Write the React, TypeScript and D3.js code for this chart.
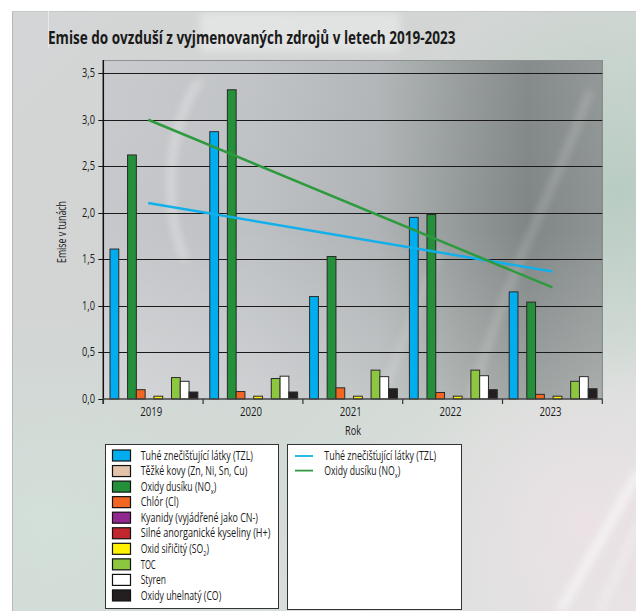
import React, { useEffect, useRef } from 'react';
import * as d3 from 'd3';

// ---------- DATA ----------
const years = ['2019', '2020', '2021', '2022', '2023'];

// legend labels: [main, subscript, tail]
const seriesLabels: [string, string, string][] = [
  ['Tuhé znečišťující látky (TZL)', '', ''],
  ['Těžké kovy (Zn, Ni, Sn, Cu)', '', ''],
  ['Oxidy dusíku (NO', 'x', ')'],
  ['Chlór (Cl)', '', ''],
  ['Kyanidy (vyjádřené jako CN-)', '', ''],
  ['Silné anorganické kyseliny (H+)', '', ''],
  ['Oxid siřičitý (SO', '2', ')'],
  ['TOC', '', ''],
  ['Styren', '', ''],
  ['Oxidy uhelnatý (CO)', '', ''],
];
const seriesColors = ['#00aeef', '#e3c4ab', '#25903a', '#f26522', '#92278f', '#c1272d', '#fff200', '#8dc63f', '#ffffff', '#231f20'];

const tzl = [1.61, 2.87, 1.1, 1.95, 1.15];
const tezkeKovy = [0, 0, 0, 0, 0];
const oxidyDusiku = [2.62, 3.32, 1.53, 1.98, 1.04];
const chlor = [0.1, 0.08, 0.12, 0.07, 0.05];
const kyanidy = [0, 0, 0, 0, 0];
const kyseliny = [0, 0, 0, 0, 0];
const oxidSiricity = [0.03, 0.03, 0.03, 0.03, 0.03];
const toc = [0.23, 0.22, 0.31, 0.31, 0.19];
const styren = [0.19, 0.245, 0.24, 0.25, 0.24];
const oxidUhelnaty = [0.075, 0.075, 0.11, 0.1, 0.11];

const seriesValues = [tzl, tezkeKovy, oxidyDusiku, chlor, kyanidy, kyseliny, oxidSiricity, toc, styren, oxidUhelnaty];
// slot position of each series within a year group
const barSlots = [0, 1, 2, 3, 4, 6, 5, 7, 8, 9];

// trend lines (linear) for TZL and NOx
const trendSeries = [0, 2];
const trendColors = ['#12b0ea', '#2e9a3e'];
const trendLabels: [string, string, string][] = [
  ['Tuhé znečišťující látky (TZL)', '', ''],
  ['Oxidy dusíku (NO', 'x', ')'],
];

const yTicks = [0, 0.5, 1, 1.5, 2, 2.5, 3, 3.5];

const FONT = "'Liberation Sans Narrow', 'Open Sans', 'DejaVu Sans', sans-serif";

function fitText(sel: d3.Selection<SVGTextElement, unknown, null, undefined>, x: number, target: number) {
  const node = sel.node();
  if (!node) return;
  const w = node.getComputedTextLength();
  if (w > 0) {
    const s = target / w;
    sel.attr('transform', `translate(${x},0) scale(${s},1) translate(${-x},0)`);
  }
}

export default function App() {
  const ref = useRef<SVGSVGElement>(null);

  useEffect(() => {
    const svg = d3.select(ref.current!);
    svg.selectAll('*').remove();

    const W = 636, H = 611;
    const plotL = 103.3, plotR = 602.3, plotT = 60, plotB = 399;

    const defs = svg.append('defs');
    // page background gradient
    const bg = defs.append('linearGradient').attr('id', 'bgGrad').attr('x1', 0).attr('y1', 0).attr('x2', 1).attr('y2', 1);
    [[0, '#d4d5d6'], [0.35, '#d2d5d4'], [0.6, '#d3dbd6'], [0.85, '#dde0de'], [1, '#e6e3e5']].forEach(([o, c]) =>
      bg.append('stop').attr('offset', o as number).attr('stop-color', c as string));
    const rg1 = defs.append('radialGradient').attr('id', 'greenGlow').attr('cx', 0.97).attr('cy', 0.3).attr('r', 0.35);
    rg1.append('stop').attr('offset', 0).attr('stop-color', '#b7cbc1').attr('stop-opacity', 0.95);
    rg1.append('stop').attr('offset', 1).attr('stop-color', '#b7cbc1').attr('stop-opacity', 0);
    const rg2 = defs.append('radialGradient').attr('id', 'pinkGlow').attr('cx', 0.92).attr('cy', 0.85).attr('r', 0.3);
    rg2.append('stop').attr('offset', 0).attr('stop-color', '#ece2e6').attr('stop-opacity', 0.9);
    rg2.append('stop').attr('offset', 1).attr('stop-color', '#ece2e6').attr('stop-opacity', 0);
    const rg3 = defs.append('radialGradient').attr('id', 'leftGlow').attr('cx', 0.05).attr('cy', 0.85).attr('r', 0.35);
    rg3.append('stop').attr('offset', 0).attr('stop-color', '#d3e0d9').attr('stop-opacity', 0.9);
    rg3.append('stop').attr('offset', 1).attr('stop-color', '#d3e0d9').attr('stop-opacity', 0);

    const pg = defs.append('linearGradient').attr('id', 'plotGrad').attr('x1', 0).attr('y1', 0).attr('x2', 1).attr('y2', 0);
    [[0, '#c6c8cb'], [0.3, '#bec1c4'], [0.55, '#afb3b5'], [0.72, '#939998'], [0.85, '#7f8685'], [1, '#8e9493']].forEach(([o, c]) =>
      pg.append('stop').attr('offset', o as number).attr('stop-color', c as string));
    const pv = defs.append('linearGradient').attr('id', 'plotV').attr('x1', 0).attr('y1', 0).attr('x2', 0).attr('y2', 1);
    pv.append('stop').attr('offset', 0).attr('stop-color', '#ffffff').attr('stop-opacity', 0.05);
    pv.append('stop').attr('offset', 0.5).attr('stop-color', '#ffffff').attr('stop-opacity', 0);
    pv.append('stop').attr('offset', 1).attr('stop-color', '#ffffff').attr('stop-opacity', 0.25);
    defs.append('filter').attr('id', 'blur').attr('x', -0.5).attr('y', -0.5).attr('width', 2).attr('height', 2)
      .append('feGaussianBlur').attr('stdDeviation', 4);
    defs.append('clipPath').attr('id', 'plotClip').append('rect')
      .attr('x', plotL).attr('y', plotT).attr('width', plotR - plotL).attr('height', plotB - plotT);
    defs.append('clipPath').attr('id', 'pageClip').append('rect')
      .attr('x', 12).attr('y', 11).attr('width', W - 12).attr('height', H - 11);

    // page
    svg.append('rect').attr('width', W).attr('height', H).attr('fill', '#ffffff');
    const page = svg.append('g').attr('clip-path', 'url(#pageClip)');
    page.append('rect').attr('x', 12).attr('y', 11).attr('width', W - 12).attr('height', H - 11).attr('fill', 'url(#bgGrad)');
    page.append('rect').attr('x', 12).attr('y', 11).attr('width', W - 12).attr('height', H - 11).attr('fill', 'url(#leftGlow)');
    page.append('rect').attr('x', 12).attr('y', 11).attr('width', W - 12).attr('height', H - 11).attr('fill', 'url(#greenGlow)');
    page.append('rect').attr('x', 12).attr('y', 11).attr('width', W - 12).attr('height', H - 11).attr('fill', 'url(#pinkGlow)');
    // streaks
    page.append('line').attr('x1', 30).attr('y1', 20).attr('x2', 30).attr('y2', 300)
      .attr('stroke', '#ffffff').attr('stroke-width', 5).attr('opacity', 0.45).attr('filter', 'url(#blur)');
    page.append('path').attr('d', 'M640,470 L560,611').attr('stroke', '#ffffff').attr('stroke-width', 7)
      .attr('opacity', 0.7).attr('filter', 'url(#blur)');
    page.append('path').attr('d', 'M640,520 L600,611').attr('stroke', '#ffffff').attr('stroke-width', 4)
      .attr('opacity', 0.5).attr('filter', 'url(#blur)');
    page.append('rect').attr('x', 200).attr('y', 12).attr('width', 200).attr('height', 40).attr('fill', '#ffffff')
      .attr('opacity', 0.35).attr('filter', 'url(#blur)');
    page.append('line').attr('x1', 12.5).attr('y1', 11).attr('x2', 12.5).attr('y2', H).attr('stroke', '#b4b8b6').attr('stroke-width', 1);
    page.append('line').attr('x1', 12).attr('y1', 11.5).attr('x2', W).attr('y2', 11.5).attr('stroke', '#c6c8c8').attr('stroke-width', 1);
    page.append('line').attr('x1', 48.5).attr('y1', 11).attr('x2', 48.5).attr('y2', 48).attr('stroke', '#e8e8e8').attr('stroke-width', 1);

    // title
    const title = svg.append('text').attr('x', 48).attr('y', 44).attr('font-family', FONT).attr('font-weight', 'bold')
      .attr('font-size', 17).attr('fill', '#1a1a1a').text('Emise do ovzduší z vyjmenovaných zdrojů v letech 2019-2023');
    fitText(title as any, 48, 408);

    // scales
    const x = d3.scaleBand<string>().domain(years).range([plotL, plotR]).padding(0);
    const slotScale = d3.scaleBand<number>().domain(d3.range(10)).range([0, x.bandwidth()])
      .paddingInner(0).paddingOuter(0.68).align(0.56);
    const y = d3.scaleLinear().domain([0, 3.5]).range([plotB, 73]);

    // plot bg
    svg.append('rect').attr('x', plotL).attr('y', plotT).attr('width', plotR - plotL).attr('height', plotB - plotT).attr('fill', 'url(#plotGrad)');
    svg.append('rect').attr('x', plotL).attr('y', plotT).attr('width', plotR - plotL).attr('height', plotB - plotT).attr('fill', 'url(#plotV)');
    const streaks = svg.append('g').attr('clip-path', 'url(#plotClip)');
    streaks.append('path').attr('d', 'M200,80 C170,120 160,200 185,260').attr('fill', 'none').attr('stroke', '#ffffff')
      .attr('stroke-width', 5).attr('opacity', 0.5).attr('filter', 'url(#blur)');
    streaks.append('path').attr('d', 'M590,90 C560,180 520,240 470,400').attr('fill', 'none').attr('stroke', '#ffffff')
      .attr('stroke-width', 4).attr('opacity', 0.35).attr('filter', 'url(#blur)');
    streaks.append('path').attr('d', 'M440,250 C420,300 400,350 380,400').attr('fill', 'none').attr('stroke', '#ffffff')
      .attr('stroke-width', 4).attr('opacity', 0.3).attr('filter', 'url(#blur)');
    svg.append('line').attr('x1', plotL).attr('x2', plotR).attr('y1', plotT + 0.5).attr('y2', plotT + 0.5).attr('stroke', '#8d9191');
    svg.append('line').attr('x1', plotR).attr('x2', plotR).attr('y1', plotT).attr('y2', plotB).attr('stroke', '#7b8181');

    // gridlines
    svg.append('g').selectAll('line').data(yTicks.filter(t => t > 0)).join('line')
      .attr('x1', plotL).attr('x2', plotR).attr('y1', d => Math.round(y(d)) + 0.5).attr('y2', d => Math.round(y(d)) + 0.5)
      .attr('stroke', '#1a1a1a').attr('stroke-width', 1);

    // bars
    const barG = svg.append('g');
    seriesValues.forEach((vals, si) => {
      barG.append('g').selectAll('rect').data(vals.map((v, i) => ({ v, year: years[i] })).filter(d => d.v > 0)).join('rect')
        .attr('x', d => (x(d.year) as number) + (slotScale(barSlots[si]) as number))
        .attr('y', d => y(d.v))
        .attr('width', slotScale.bandwidth())
        .attr('height', d => y(0) - y(d.v))
        .attr('fill', seriesColors[si])
        .attr('stroke', '#2a2a2a').attr('stroke-width', 1);
    });

    // trend lines
    trendSeries.forEach((si, k) => {
      const vals = seriesValues[si];
      const xs = vals.map((_, i) => i);
      const mx = d3.mean(xs)!, my = d3.mean(vals)!;
      const slope = d3.sum(xs.map((xi, i) => (xi - mx) * (vals[i] - my))) / d3.sum(xs.map(xi => (xi - mx) ** 2));
      const pts: [number, number][] = [0, vals.length - 1].map(i => [
        (x(years[i]) as number) + x.bandwidth() / 2 - (i === 0 ? 5 : 0),
        y(my + slope * (i - mx)),
      ]);
      svg.append('path').attr('d', d3.line()(pts)!).attr('fill', 'none').attr('stroke', trendColors[k]).attr('stroke-width', 2.5);
    });

    // axes
    svg.append('line').attr('x1', plotL).attr('x2', plotL).attr('y1', plotT).attr('y2', plotB + 5).attr('stroke', '#111').attr('stroke-width', 1.5);
    svg.append('line').attr('x1', plotL).attr('x2', plotR).attr('y1', plotB).attr('y2', plotB).attr('stroke', '#444').attr('stroke-width', 1.5);
    const yAx = svg.append('g');
    yTicks.forEach(t => {
      const yy = Math.round(y(t)) + 0.5;
      yAx.append('line').attr('x1', plotL - 5).attr('x2', plotL).attr('y1', yy).attr('y2', yy).attr('stroke', '#111');
      const tx = yAx.append('text').attr('x', 95).attr('y', yy + 4).attr('text-anchor', 'end').attr('font-family', FONT)
        .attr('font-size', 12).attr('fill', '#1a1a1a').text(d3.format('.1f')(t).replace('.', ','));
      fitText(tx as any, 95, 13);
    });
    const xAx = svg.append('g');
    [...years.map(yy => x(yy) as number), plotR].forEach(bx => {
      xAx.append('line').attr('x1', bx).attr('x2', bx).attr('y1', plotB).attr('y2', plotB + 5).attr('stroke', '#333').attr('stroke-width', 1.2);
    });
    years.forEach(yy => {
      const cx = (x(yy) as number) + x.bandwidth() / 2 - 2;
      const tx = xAx.append('text').attr('x', cx).attr('y', 416).attr('text-anchor', 'middle').attr('font-family', FONT)
        .attr('font-size', 12).attr('fill', '#1a1a1a').text(yy);
      fitText(tx as any, cx, 22);
    });
    const rok = svg.append('text').attr('x', 353).attr('y', 435).attr('text-anchor', 'middle').attr('font-family', FONT)
      .attr('font-size', 12).attr('fill', '#1a1a1a').text('Rok');
    fitText(rok as any, 353, 16);
    const yTitle = svg.append('g').attr('transform', 'translate(66,232) rotate(-90)').append('text')
      .attr('x', 0).attr('y', 0).attr('text-anchor', 'middle').attr('font-family', FONT).attr('font-size', 12)
      .attr('fill', '#1a1a1a').text('Emise v tunách');
    fitText(yTitle as any, 0, 62);

    // legend text helper
    const legendText = (g: any, tx: number, ty: number, parts: [string, string, string], target: number) => {
      const t = g.append('text').attr('x', tx).attr('y', ty).attr('font-family', FONT).attr('font-size', 12).attr('fill', '#1a1a1a');
      t.append('tspan').text(parts[0]);
      if (parts[1]) {
        t.append('tspan').attr('font-size', 8).attr('dy', 3).text(parts[1]);
        t.append('tspan').attr('dy', -3).text(parts[2]);
      }
      const node = t.node() as SVGTextElement;
      const w = node.getBBox().width;
      if (w > 0) t.attr('transform', `translate(${tx},0) scale(${target / w},1) translate(${-tx},0)`);
    };

    // legend 1
    const lg1 = svg.append('g');
    lg1.append('rect').attr('x', 105.5).attr('y', 444.5).attr('width', 173).attr('height', 164).attr('fill', '#ffffff').attr('stroke', '#333');
    const legendWidths = [112.7, 107, 76, 38.3, 117.7, 130.3, 68.7, 15.3, 25.3, 81];
    seriesLabels.forEach((lab, i) => {
      const cy = 455.5 + i * 15.55;
      lg1.append('rect').attr('x', 112.5).attr('y', cy - 5.5).attr('width', 18).attr('height', 11)
        .attr('fill', seriesColors[i]).attr('stroke', '#111').attr('stroke-width', 1.2);
      legendText(lg1, 140.7, cy + 4.2, lab, legendWidths[i]);
    });

    // legend 2
    const lg2 = svg.append('g');
    lg2.append('rect').attr('x', 287.5).attr('y', 444.5).attr('width', 174).attr('height', 165).attr('fill', '#ffffff').attr('stroke', '#333');
    const legend2Widths = [112.4, 76.4];
    trendLabels.forEach((lab, k) => {
      const cy = 456 + k * 14.6;
      lg2.append('line').attr('x1', 295).attr('x2', 313).attr('y1', cy).attr('y2', cy)
        .attr('stroke', trendColors[k]).attr('stroke-width', 1.8);
      legendText(lg2, 324.3, cy + 4, lab, legend2Widths[k]);
    });
  }, []);

  return (
    <svg ref={ref} width={636} height={611} style={{ position: 'absolute', left: 0, top: 0, display: 'block' }} />
  );
}
